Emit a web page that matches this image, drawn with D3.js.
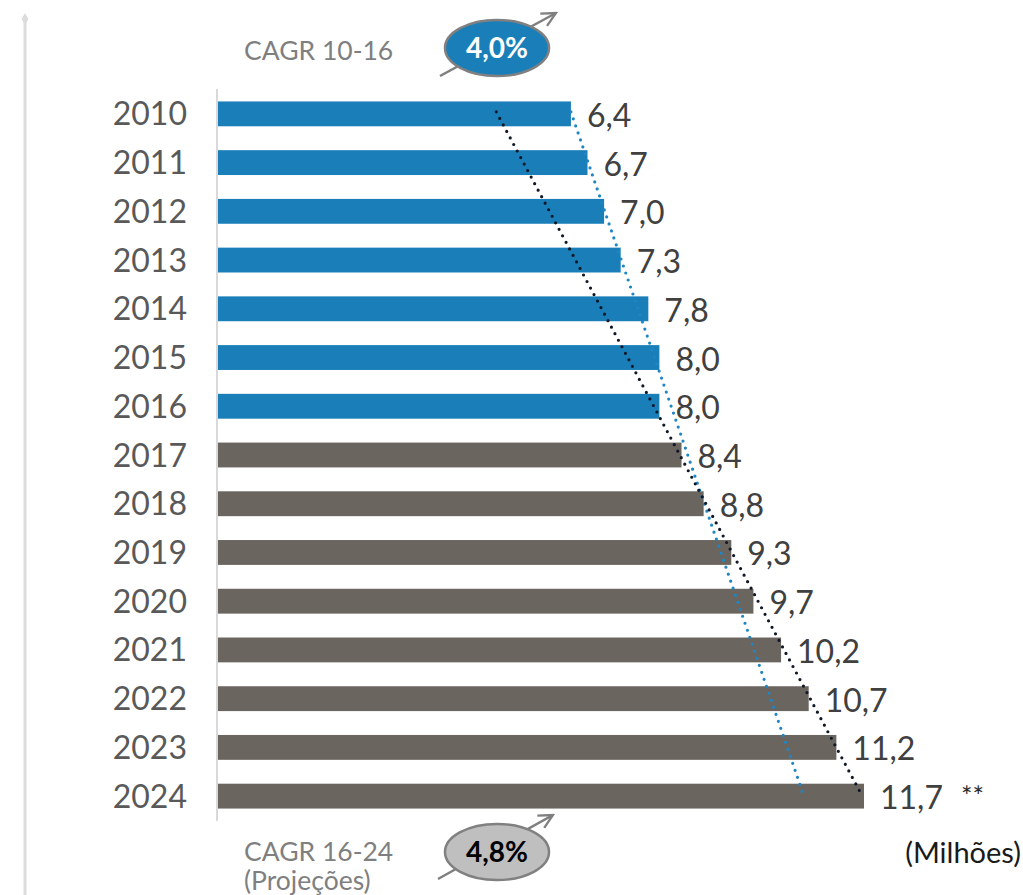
<!DOCTYPE html>
<html>
<head>
<meta charset="utf-8">
<script src="https://cdn.jsdelivr.net/npm/d3@7"></script>
<style>
  body { margin: 0; background: #fff; }
  svg { display: block; font-family: Lato, "Open Sans", sans-serif; }
</style>
</head>
<body>
<svg id="chart"></svg>
<script>
const years = ["2010", "2011", "2012", "2013", "2014", "2015", "2016", "2017", "2018", "2019", "2020", "2021", "2022", "2023", "2024"];
const values = [6.4, 6.7, 7.0, 7.3, 7.8, 8.0, 8.0, 8.4, 8.8, 9.3, 9.7, 10.2, 10.7, 11.2, 11.7];
const labels = ["6,4", "6,7", "7,0", "7,3", "7,8", "8,0", "8,0", "8,4", "8,8", "9,3", "9,7", "10,2", "10,7", "11,2", "11,7"];
const lastHistYear = "2016";
// trend lines, start/end value (2010 -> 2024)
const trendBlue = [6.4, 10.6];
const trendBlack = [5.05, 11.65];

const width = 1023, height = 895;
const blue = "#1a7fb9", grey = "#6b6560";

const svg = d3.select("#chart").attr("width", width).attr("height", height);

const x = d3.scaleLinear().domain([0, 12]).range([217, 217 + 55.3 * 12]);
const y = d3.scaleBand().domain(years).range([89.5, 820.5]).paddingInner(0.49).paddingOuter(0.245);

// left guide line with diamond
svg.append("line").attr("x1", 25).attr("x2", 25).attr("y1", 20).attr("y2", height)
  .attr("stroke", "#dcdcdc").attr("stroke-width", 3);
svg.append("path").attr("d", d3.symbol(d3.symbolDiamond, 40)())
  .attr("transform", "translate(25,19)").attr("fill", "#dcdcdc");

// axis
svg.append("line").attr("x1", x(0)).attr("x2", x(0)).attr("y1", 89).attr("y2", 821)
  .attr("stroke", "#d9d9d9").attr("stroke-width", 2);

const histIdx = years.indexOf(lastHistYear);

svg.selectAll("rect.bar").data(years).enter().append("rect")
  .attr("class", "bar")
  .attr("x", x(0) + 1)
  .attr("y", d => y(d))
  .attr("width", (d, i) => x(values[i]) - x(0) - 1)
  .attr("height", y.bandwidth())
  .attr("fill", (d, i) => i <= histIdx ? blue : grey);

svg.selectAll("text.year").data(years).enter().append("text")
  .attr("class", "year")
  .attr("x", 187)
  .attr("y", d => y(d) + y.bandwidth() / 2 + 11.5)
  .attr("text-anchor", "end")
  .attr("font-size", 32).attr("fill", "#595959")
  .text(d => d);

svg.selectAll("text.val").data(years).enter().append("text")
  .attr("class", "val")
  .attr("x", (d, i) => x(values[i]) + 16)
  .attr("y", d => y(d) + y.bandwidth() / 2 + 13)
  .attr("font-size", 32).attr("fill", "#404040")
  .text((d, i) => labels[i]);

// trendlines
const y0 = y(years[0]) + y.bandwidth() / 2 - 2;
const y1 = y(years[years.length - 1]) + y.bandwidth() / 2 - 2;
function trend(vals, color) {
  svg.append("line")
    .attr("x1", x(vals[0])).attr("y1", y0)
    .attr("x2", x(vals[1])).attr("y2", y1)
    .attr("stroke", color).attr("stroke-width", 3.2)
    .attr("stroke-linecap", "round").attr("stroke-dasharray", "0 7.4");
}
trend(trendBlue, "#1e86c4");
trend(trendBlack, "#101828");

// CAGR badges
svg.append("defs").append("marker")
  .attr("id", "arr").attr("viewBox", "0 0 10 10").attr("refX", 9).attr("refY", 5)
  .attr("markerWidth", 7).attr("markerHeight", 7).attr("orient", "auto")
  .append("path").attr("d", "M1,1 L9,5 L1,9").attr("fill", "none")
  .attr("stroke", "#7f7f7f").attr("stroke-width", 1.3);

function badge(cy, fill, txtColor, txt, ax1, ay1, ax2, ay2) {
  svg.append("line").attr("x1", ax1).attr("y1", ay1).attr("x2", ax2).attr("y2", ay2)
    .attr("stroke", "#7f7f7f").attr("stroke-width", 2.5).attr("marker-end", "url(#arr)");
  svg.append("ellipse").attr("cx", 497).attr("cy", cy).attr("rx", 52).attr("ry", 28)
    .attr("fill", fill).attr("stroke", "#808080").attr("stroke-width", 2.5);
  svg.append("text").attr("x", 497).attr("y", cy + 10).attr("text-anchor", "middle")
    .attr("font-size", 28).attr("font-weight", "bold").attr("fill", txtColor).text(txt);
}
badge(48, blue, "#fff", "4,0%", 440, 76, 556, 13);
badge(852, "#bfbfbf", "#000", "4,8%", 438, 879, 553, 815);

svg.append("text").attr("x", 244).attr("y", 60).attr("font-size", 26.5).attr("fill", "#7f7f7f").text("CAGR 10-16");
svg.append("text").attr("x", 244).attr("y", 861).attr("font-size", 26.5).attr("fill", "#7f7f7f").text("CAGR 16-24");
svg.append("text").attr("x", 244).attr("y", 890).attr("font-size", 26.5).attr("fill", "#7f7f7f").text("(Projeções)");

svg.append("text").attr("x", 961).attr("y", 806).attr("font-size", 27).attr("fill", "#262626").text("**");
svg.append("text").attr("x", 1021).attr("y", 863).attr("text-anchor", "end")
  .attr("font-size", 29).attr("fill", "#1a1a1a").text("(Milhões)");
</script>
</body>
</html>
